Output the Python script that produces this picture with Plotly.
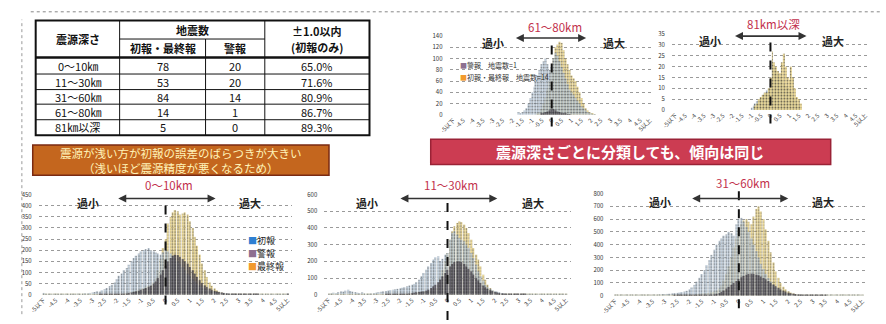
import plotly.graph_objects as go

W, H = 886, 324
FONT = "Noto Sans CJK JP"


def px(x):
    return x / W


def py(y):
    return 1 - y / H


# ---------------- table data ----------------
depth_labels = ["0～10㎞", "11～30㎞", "31～60㎞", "61～80㎞", "81㎞以深"]
count_first_final = [78, 53, 84, 14, 5]
count_warning = [20, 20, 14, 1, 0]
within_one_pct = [65.0, 71.6, 80.9, 86.7, 89.3]

# ---------------- histogram bins / ticks ----------------
bins = [round(-5 + 0.1 * i, 1) for i in range(101)]
tick_vals = [-5, -4.5, -4, -3.5, -3, -2.5, -2, -1.5, -1, -0.5, 0,
             0.5, 1, 1.5, 2, 2.5, 3, 3.5, 4, 4.5, 5]
tick_text = ["-5以下", "-4.5", "-4", "-3.5", "-3", "-2.5", "-2", "-1.5", "-1", "-0.5", "0",
             "0.5", "1", "1.5", "2", "2.5", "3", "3.5", "4", "4.5", "5以上"]

# ---------------- 0-10km ----------------
first_0_10 = [8, 3, 2, 4, 3, 2, 5, 3, 2, 4,
              3, 5, 4, 3, 6, 4, 5, 7, 6, 8,
              10, 12, 15, 14, 20, 25, 30, 38, 45, 55,
              70, 85, 95, 110, 120, 135, 150, 165, 175, 185,
              195, 200, 205, 210, 200, 195, 190, 185, 180, 190,
              200, 195, 185, 175, 165, 150, 140, 125, 110, 95,
              85, 72, 60, 50, 42, 35, 28, 24, 20, 16,
              14, 12, 10, 9, 8, 7, 6, 5, 5, 4,
              4, 3, 3, 3, 2, 2, 2, 2, 2, 1,
              1, 1, 1, 1, 1, 1, 1, 1, 1, 1,
              6]
warn_0_10 = [0, 0, 0, 0, 0, 0, 0, 0, 0, 0,
             0, 0, 0, 0, 0, 0, 0, 0, 0, 0,
             0, 0, 0, 1, 1, 1, 1, 2, 2, 2,
             2, 3, 4, 5, 6, 8, 10, 12, 15, 18,
             22, 26, 30, 35, 40, 50, 60, 75, 90, 110,
             130, 150, 165, 175, 180, 178, 170, 160, 150, 140,
             125, 110, 95, 80, 65, 52, 42, 35, 28, 22,
             18, 15, 12, 10, 8, 6, 5, 4, 3, 3,
             2, 2, 2, 1, 1, 1, 1, 1, 1, 0,
             0, 0, 0, 0, 0, 0, 0, 0, 0, 0,
             1]
final_0_10 = [2, 1, 1, 1, 1, 1, 1, 1, 1, 1,
              1, 1, 1, 1, 1, 1, 1, 1, 1, 1,
              1, 1, 1, 1, 2, 2, 2, 3, 3, 4,
              4, 5, 6, 7, 8, 10, 12, 15, 18, 22,
              26, 30, 35, 40, 45, 55, 75, 110, 160, 210,
              250, 320, 350, 370, 380, 375, 360, 365, 370, 360,
              330, 300, 260, 220, 180, 140, 110, 80, 55, 40,
              28, 20, 14, 10, 8, 6, 5, 4, 3, 2,
              2, 2, 1, 1, 1, 1, 1, 1, 1, 1,
              1, 1, 1, 1, 1, 1, 1, 1, 1, 1,
              3]

# ---------------- 11-30km ----------------
first_11_30 = [5, 8, 12, 10, 15, 20, 18, 25, 30, 22,
               18, 15, 12, 10, 14, 8, 6, 5, 8, 10,
               12, 15, 18, 20, 22, 25, 28, 30, 32, 35,
               38, 42, 45, 50, 55, 60, 65, 75, 90, 110,
               130, 150, 170, 190, 210, 225, 230, 200, 215, 240,
               250, 330, 370, 380, 360, 340, 330, 320, 300, 280,
               250, 220, 180, 140, 110, 85, 60, 45, 35, 28,
               22, 18, 14, 10, 8, 6, 5, 4, 3, 3,
               2, 2, 2, 1, 1, 1, 1, 1, 1, 1,
               1, 1, 1, 1, 1, 1, 1, 1, 1, 1,
               3]
warn_11_30 = [0, 0, 0, 0, 0, 0, 0, 0, 0, 0,
              0, 0, 0, 0, 0, 0, 0, 0, 0, 0,
              0, 0, 0, 0, 1, 1, 1, 2, 2, 2,
              3, 4, 5, 6, 8, 10, 12, 14, 16, 18,
              20, 25, 30, 40, 50, 60, 75, 90, 110, 130,
              150, 170, 185, 195, 200, 200, 195, 185, 170, 155,
              140, 120, 100, 85, 70, 55, 45, 35, 28, 22,
              16, 12, 10, 8, 6, 5, 4, 3, 2, 2,
              1, 1, 1, 1, 0, 0, 0, 0, 0, 0,
              0, 0, 0, 0, 0, 0, 0, 0, 0, 0,
              0]
final_11_30 = [1, 1, 1, 1, 1, 1, 1, 1, 1, 1,
               1, 1, 1, 1, 1, 1, 1, 1, 1, 1,
               1, 1, 2, 2, 2, 3, 3, 4, 4, 5,
               5, 6, 7, 8, 9, 10, 12, 14, 16, 18,
               20, 22, 25, 28, 32, 40, 60, 100, 150, 200,
               250, 330, 380, 410, 430, 440, 435, 420, 400, 370,
               330, 280, 240, 210, 170, 120, 90, 60, 40, 28,
               18, 12, 8, 6, 5, 4, 3, 2, 2, 1,
               1, 1, 1, 1, 1, 1, 1, 1, 1, 1,
               1, 1, 1, 1, 1, 1, 1, 1, 1, 1,
               2]

# ---------------- 31-60km ----------------
first_31_60 = [3, 2, 4, 3, 5, 3, 4, 6, 4, 5,
               6, 5, 7, 6, 8, 7, 9, 8, 10, 12,
               12, 14, 15, 18, 20, 22, 25, 28, 32, 38,
               50, 65, 85, 110, 140, 170, 200, 240, 280, 320,
               360, 400, 430, 450, 470, 480, 500, 490, 470, 560,
               600, 610, 580, 540, 500, 450, 400, 350, 300, 250,
               210, 170, 140, 110, 85, 65, 50, 38, 28, 20,
               15, 12, 10, 8, 6, 5, 4, 3, 3, 2,
               2, 2, 1, 1, 1, 1, 1, 1, 1, 1,
               1, 1, 1, 1, 1, 1, 1, 1, 1, 1,
               2]
warn_31_60 = [0, 0, 0, 0, 0, 0, 0, 0, 0, 0,
              0, 0, 0, 0, 0, 0, 0, 0, 0, 0,
              0, 0, 0, 0, 1, 1, 1, 1, 2, 2,
              2, 3, 3, 4, 4, 5, 6, 7, 8, 9,
              10, 15, 20, 30, 40, 55, 70, 85, 100, 115,
              130, 145, 155, 165, 170, 172, 170, 165, 160, 150,
              140, 128, 115, 100, 88, 75, 62, 50, 40, 32,
              25, 20, 16, 12, 10, 8, 6, 5, 4, 3,
              2, 2, 1, 1, 1, 1, 0, 0, 0, 0,
              0, 0, 0, 0, 0, 0, 0, 0, 0, 0,
              0]
final_31_60 = [1, 1, 1, 1, 1, 1, 1, 1, 1, 1,
               1, 1, 1, 1, 1, 1, 2, 2, 2, 2,
               2, 3, 3, 3, 4, 4, 5, 5, 6, 7,
               8, 9, 10, 12, 14, 16, 18, 20, 24, 28,
               32, 40, 55, 80, 120, 170, 230, 300, 380, 450,
               520, 560, 590, 600, 580, 560, 620, 680, 700, 660,
               600, 520, 430, 340, 260, 190, 140, 100, 70, 50,
               35, 25, 18, 12, 9, 6, 5, 4, 3, 2,
               2, 2, 1, 1, 1, 1, 1, 1, 1, 1,
               1, 1, 1, 1, 1, 1, 1, 1, 1, 1,
               2]

# ---------------- 61-80km ----------------
first_61_80 = [0, 0, 0, 0, 0, 0, 0, 0, 0, 0,
               0, 0, 0, 0, 0, 0, 0, 0, 0, 0,
               0, 0, 0, 0, 0, 0, 0, 0, 0, 0,
               0, 0, 0, 5, 3, 5, 8, 12, 20, 30,
               40, 50, 60, 70, 80, 90, 95, 100, 90, 80,
               85, 100, 110, 105, 95, 85, 75, 65, 55, 45,
               40, 35, 30, 25, 20, 15, 12, 8, 5, 3,
               2, 1, 1, 0, 0, 0, 0, 0, 0, 0,
               0, 0, 0, 0, 0, 0, 0, 0, 0, 0,
               0, 0, 0, 0, 0, 0, 0, 0, 0, 0,
               0]
warn_61_80 = [0, 0, 0, 0, 0, 0, 0, 0, 0, 0,
              0, 0, 0, 0, 0, 0, 0, 0, 0, 0,
              0, 0, 0, 0, 0, 0, 0, 0, 0, 0,
              0, 0, 0, 0, 0, 0, 0, 0, 0, 0,
              0, 0, 0, 0, 0, 2, 3, 5, 6, 8,
              10, 10, 8, 6, 5, 3, 2, 2, 1, 1,
              0, 0, 0, 0, 0, 0, 0, 0, 0, 0,
              0, 0, 0, 0, 0, 0, 0, 0, 0, 0,
              0, 0, 0, 0, 0, 0, 0, 0, 0, 0,
              0, 0, 0, 0, 0, 0, 0, 0, 0, 0,
              0]
final_61_80 = [0, 0, 0, 0, 0, 0, 0, 0, 0, 0,
               0, 0, 0, 0, 0, 0, 0, 0, 0, 0,
               0, 0, 0, 0, 0, 0, 0, 0, 0, 0,
               0, 0, 0, 0, 0, 0, 0, 0, 0, 0,
               0, 0, 0, 2, 5, 10, 20, 30, 45, 60,
               80, 100, 120, 125, 130, 128, 115, 100, 90, 80,
               70, 65, 60, 50, 40, 30, 20, 12, 8, 5,
               3, 2, 1, 0, 0, 0, 0, 0, 0, 0,
               0, 0, 0, 0, 0, 0, 0, 0, 0, 0,
               0, 0, 0, 0, 0, 0, 0, 0, 0, 0,
               0]

# ---------------- 81km and deeper ----------------
first_81 = [0, 0, 0, 0, 0, 0, 0, 0, 0, 0,
            0, 0, 0, 0, 0, 0, 0, 0, 0, 0,
            0, 0, 0, 0, 0, 0, 0, 0, 0, 0,
            0, 0, 0, 0, 0, 0, 0, 0, 0, 0,
            1, 2, 3, 4, 5, 6, 7, 8, 9, 10,
            12, 22, 20, 18, 16, 15, 14, 12, 11, 10,
            9, 8, 6, 5, 3, 2, 0, 0, 0, 0,
            0, 0, 0, 0, 0, 0, 0, 0, 0, 0,
            0, 0, 0, 0, 0, 0, 0, 0, 0, 0,
            0, 0, 0, 0, 0, 0, 0, 0, 0, 0,
            0]
final_81 = [0, 0, 0, 0, 0, 0, 0, 0, 0, 0,
            0, 0, 0, 0, 0, 0, 0, 0, 0, 0,
            0, 0, 0, 0, 0, 0, 0, 0, 0, 0,
            0, 0, 0, 0, 0, 0, 0, 0, 0, 0,
            0, 0, 2, 3, 5, 6, 7, 8, 8, 10,
            15, 27, 22, 20, 18, 17, 22, 26, 20, 15,
            14, 20, 15, 10, 6, 5, 3, 0, 0, 0,
            0, 0, 0, 0, 0, 0, 0, 0, 0, 0,
            0, 0, 0, 0, 0, 0, 0, 0, 0, 0,
            0, 0, 0, 0, 0, 0, 0, 0, 0, 0,
            0]

# ---------------- styling ----------------
C_FIRST = "#c3d4e4"
C_WARN = "#57525c"
C_FINAL = "#f3dc8c"
LEG_FIRST = "#2f80d2"
LEG_WARN = "#8d6f90"
LEG_FINAL = "#f29a2e"
TITLE_RED = "#c2304c"

# panel geometry in pixels: x of -5 / +5 bins, y of zero / top gridline
panels = [
    dict(key="a", title="0～10km", xl=33, xr=280, y0=298, y1=195, ymax=450, dtick=50,
         series=[final_0_10, first_0_10, warn_0_10], arrow_y=199, small_y=204,
         dash=(200, 308), title_y=185, arrow=(-2.0, 2.05), small=(-3.2, 3.45)),
    dict(key="b", title="11～30km", xl=322, xr=562, y0=298, y1=195, ymax=600, dtick=100,
         series=[final_11_30, first_11_30, warn_11_30], arrow_y=199, small_y=204,
         dash=(198, 324), title_y=185, arrow=(-2.05, 2.1), small=(-3.4, 3.6)),
    dict(key="c", title="31～60km", xl=612, xr=862, y0=299, y1=194, ymax=800, dtick=100,
         series=[final_31_60, first_31_60, warn_31_60], arrow_y=199, small_y=203,
         dash=(190, 312), title_y=183, arrow=(-1.95, 2.0), small=(-3.2, 3.4)),
    dict(key="d", title="61～80km", xl=448, xr=647, y0=113, y1=32, ymax=140, dtick=20,
         series=[final_61_80, first_61_80, warn_61_80], arrow_y=34, small_y=39,
         dash=(33, 125), title_y=23, arrow=(-1.9, 1.75), small=(-3.0, 3.15)),
    dict(key="e", title="81km以深", xl=673, xr=865, y0=108, y1=30, ymax=35, dtick=5,
         series=[first_81, final_81], arrow_y=32, small_y=37,
         dash=(30, 122), title_y=20, arrow=(-1.95, 1.9), small=(-3.2, 3.3)),
]

fig = go.Figure()
layout_axes = {}
annotations = []
shapes = []

series_style = {
    "final": C_FINAL,
    "first": C_FIRST,
    "warn": C_WARN,
}


def label(text, x, y, xref="paper", yref="paper", size=10, color="#111", **kw):
    annotations.append(dict(text=text, x=x, y=y, xref=xref, yref=yref, showarrow=False,
                            xanchor=kw.pop("xanchor", "center"), yanchor="middle",
                            font=dict(size=size, color=color, family=FONT), **kw))


for idx, p in enumerate(panels, start=1):
    xa = "x" if idx == 1 else f"x{idx}"
    ya = "y" if idx == 1 else f"y{idx}"
    unit = (p["xr"] - p["xl"]) / 10.0
    dom_x = [px(p["xl"] - 0.2 * unit), px(p["xr"] + 0.2 * unit)]
    dom_y = [py(p["y0"]), py(p["y1"])]

    kinds = ["first", "final"] if p["key"] == "e" else ["final", "first", "warn"]
    for kind, vals in zip(kinds, p["series"]):
        fig.add_trace(go.Bar(
            x=bins, y=vals, xaxis=xa, yaxis=ya, showlegend=False, opacity=0.85,
            marker=dict(color=series_style[kind], line=dict(width=0),
                        pattern=dict(shape=".", fgcolor="#1e1e1e", fgopacity=0.75,
                                     size=3, solidity=0.3)),
        ))

    axn = "xaxis" if idx == 1 else f"xaxis{idx}"
    ayn = "yaxis" if idx == 1 else f"yaxis{idx}"
    layout_axes[axn] = dict(
        domain=dom_x, anchor=ya, range=[-5.2, 5.2], tickmode="array",
        tickvals=tick_vals, ticktext=tick_text, tickangle=-45,
        tickfont=dict(size=6, color="#444", family=FONT), showgrid=False,
        zeroline=False, showline=False, ticks="",
    )
    layout_axes[ayn] = dict(
        domain=dom_y, anchor=xa, range=[0, p["ymax"]], dtick=p["dtick"],
        tickfont=dict(size=6, color="#333", family=FONT), showgrid=True,
        gridcolor="#9a9a9a", griddash="dot", gridwidth=1, zeroline=False,
        showline=False, ticks="", ticklabelstandoff=6,
    )

    # chart title
    label(p["title"], 0.15, py(p["title_y"]), xref=xa, size=11.5, color=TITLE_RED)
    # under/over labels
    for xv, lab in zip(p["small"], ["過小", "過大"]):
        label(f"<b>{lab}</b>", xv, py(p["small_y"]), xref=xa, size=11, color="#222")
    # double-headed arrow
    annotations.append(dict(x=p["arrow"][1], y=py(p["arrow_y"]), xref=xa, yref="paper",
                            ax=p["arrow"][0], ay=0, axref=xa, ayref="pixel",
                            text="", showarrow=True, arrowhead=2, arrowside="end+start",
                            arrowsize=1, arrowwidth=1.6, arrowcolor="#333"))
    # zero reference line
    shapes.append(dict(type="line", xref=xa, yref="paper", x0=0, x1=0,
                       y0=py(p["dash"][1]), y1=py(p["dash"][0]),
                       line=dict(color="#111", width=2, dash="dash")))

# legends drawn as coloured-square text keys
legend_a = [("初報", LEG_FIRST), ("警報", LEG_WARN), ("最終報", LEG_FINAL)]
for k, (name, col) in enumerate(legend_a):
    label(f"<span style='color:{col}'>■</span>{name}", px(238), py(242.5 + 13 * k),
          size=9, color="#222", xanchor="left")
legend_d = [("警報　地震数=1", LEG_WARN), ("初報・最終報　地震数=14", LEG_FINAL)]
for k, (name, col) in enumerate(legend_d):
    label(f"<span style='color:{col}'>■</span>{name}", px(453), py(62 + 12 * k),
          size=7, color="#333", xanchor="left")

# ---------------- table ----------------
col_x = [25, 110, 197, 257, 363]
row_y = [16, 35, 54, 71, 87, 102, 118, 134]
TCOL = "#111"


def hline(y, x0, x1, w=1):
    shapes.append(dict(type="line", xref="paper", yref="paper", x0=px(x0), x1=px(x1),
                       y0=py(y), y1=py(y), line=dict(color=TCOL, width=w)))


def vline(x, y0, y1, w=1):
    shapes.append(dict(type="line", xref="paper", yref="paper", x0=px(x), x1=px(x),
                       y0=py(y0), y1=py(y1), line=dict(color=TCOL, width=w)))


shapes.append(dict(type="rect", xref="paper", yref="paper", x0=px(col_x[0]), x1=px(col_x[-1]),
                   y0=py(row_y[-1]), y1=py(row_y[0]), line=dict(color=TCOL, width=2),
                   fillcolor="white", layer="below"))
hline(row_y[1], col_x[1], col_x[3])
hline(row_y[2], col_x[0], col_x[4], 2.5)
for ry in row_y[3:-1]:
    hline(ry, col_x[0], col_x[4])
vline(col_x[1], row_y[0], row_y[-1])
vline(col_x[2], row_y[1], row_y[-1])
vline(col_x[3], row_y[0], row_y[-1])


def cell(text, cx, cy, size=11):
    label(text, px(cx), py(cy), size=size, color=TCOL)


cell("<b>震源深さ</b>", (col_x[0] + col_x[1]) / 2, row_y[1])
cell("<b>地震数</b>", (col_x[1] + col_x[3]) / 2, (row_y[0] + row_y[1]) / 2)
cell("<b>初報・最終報</b>", (col_x[1] + col_x[2]) / 2, (row_y[1] + row_y[2]) / 2)
cell("<b>警報</b>", (col_x[2] + col_x[3]) / 2, (row_y[1] + row_y[2]) / 2)
cell("<b>±1.0以内</b>", (col_x[3] + col_x[4]) / 2, (row_y[0] + row_y[1]) / 2 + 1)
cell("<b>(初報のみ)</b>", (col_x[3] + col_x[4]) / 2, (row_y[1] + row_y[2]) / 2 - 1)
for r, (lab, n1, n2, pct) in enumerate(zip(depth_labels, count_first_final, count_warning,
                                           within_one_pct)):
    cy = (row_y[r + 2] + row_y[r + 3]) / 2
    cell(lab, (col_x[0] + col_x[1]) / 2, cy)
    cell(str(n1), (col_x[1] + col_x[2]) / 2, cy)
    cell(str(n2), (col_x[2] + col_x[3]) / 2, cy)
    cell(f"{pct:.1f}%", (col_x[3] + col_x[4]) / 2, cy)

# ---------------- banners ----------------
shapes.append(dict(type="rect", xref="paper", yref="paper", x0=px(22), x1=px(322),
                   y0=py(175), y1=py(144), fillcolor="#c4661e",
                   line=dict(color="#7a2a12", width=1.5)))
label("震源が浅い方が初報の誤差のばらつきが大きい<br>（浅いほど震源精度が悪くなるため）",
      px(172), py(159.5), size=11.5, color="#fff3b8")
shapes.append(dict(type="rect", xref="paper", yref="paper", x0=px(425), x1=px(830),
                   y0=py(164), y1=py(138), fillcolor="#cc3c52",
                   line=dict(color="#9a2236", width=1.5)))
label("<b>震源深さごとに分類しても、傾向は同じ</b>", px(627), py(151), size=15, color="white")

# ---------------- dotted frame ----------------
shapes.append(dict(type="line", xref="paper", yref="paper", x0=px(20), x1=px(880),
                   y0=py(7), y1=py(7), line=dict(color="#888", width=1, dash="dot")))
shapes.append(dict(type="line", xref="paper", yref="paper", x0=px(11), x1=px(11),
                   y0=py(318), y1=py(15), line=dict(color="#999", width=1, dash="dot")))

fig.update_layout(
    width=W, height=H, margin=dict(l=0, r=0, t=0, b=0),
    paper_bgcolor="white", plot_bgcolor="rgba(0,0,0,0)",
    barmode="overlay", bargap=0.5, showlegend=False,
    font=dict(family=FONT),
    annotations=annotations, shapes=shapes,
    **layout_axes,
)

fig.write_html("out.html")
